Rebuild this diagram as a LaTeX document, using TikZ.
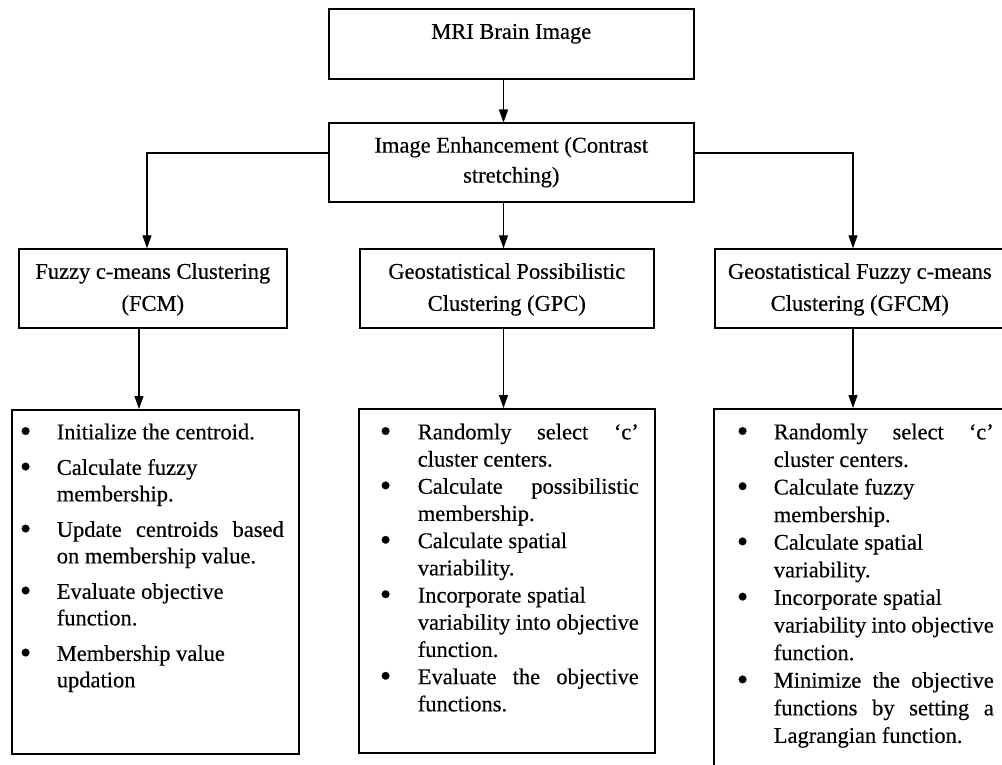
\documentclass[tikz,border=0pt]{standalone}
\usepackage{fontspec}
\setmainfont[FakeBold=0.4]{Liberation Serif}
\usetikzlibrary{arrows.meta}
\newlength{\hangamt}
\newcommand{\bul}{\raisebox{-2.5pt}{\scalebox{1.45}{\textbullet}}}
\newcommand{\itm}[1]{\hangindent=\hangamt\hangafter=1\noindent\makebox[\hangamt][l]{\strut\bul}#1\par}
\newcommand{\listsetup}[4]{\fontsize{22.5}{#4}\selectfont\lineskiplimit=0pt\lineskip=0pt\leftskip=#1\setlength{\hangamt}{#2}\rightskip=#3}
\newcommand{\cbox}[5]{\parbox[t][#2][t]{#1}{\centering\fontsize{22.5}{#5}\selectfont\lineskiplimit=0pt\lineskip=0pt\vspace*{#3}\strut #4}}
\tikzset{
  box/.style={draw, line width=1.6pt, inner sep=0pt, anchor=north west},
  arr/.style={line width=1.2pt, -{Triangle[width=9pt,length=13pt]}}
}
\begin{document}
\begin{tikzpicture}[x=1pt,y=-1pt]
\useasboundingbox (0,0) rectangle (1002,765);
% top boxes
\node[box] (mri) at (328,8) {\cbox{365pt}{70pt}{9pt}{MRI Brain Image}{30pt}};
\node[box] (enh) at (328,122.5) {\cbox{365pt}{78.5pt}{8.3pt}{Image Enhancement (Contrast\\stretching)}{30pt}};
% level 2
\node[box] (fcm) at (18,248.3) {\cbox{268pt}{79pt}{7.3pt}{Fuzzy c-means Clustering\\(FCM)}{32pt}};
\node[box] (gpc) at (359,248.3) {\cbox{294pt}{79pt}{7.3pt}{Geostatistical Possibilistic\\Clustering (GPC)}{32pt}};
\node[box] (gfcm) at (714,248.3) {\cbox{290pt}{79pt}{7.3pt}{Geostatistical Fuzzy c-means\\Clustering (GFCM)}{32pt}};
% level 3
\node[box] (fcmL) at (11,409) {\parbox[t][344pt][t]{287pt}{\listsetup{8.1pt}{36.9pt}{15pt}{26.5pt}\parskip=9pt\vspace*{2pt}
\itm{Initialize the centroid.}
\itm{Calculate fuzzy\\membership.}
\itm{Update\hfill centroids\hfill based\\on membership value.}
\itm{Evaluate objective\\function.}
\itm{Membership value\\updation}}};
\node[box] (gpcL) at (358,408) {\parbox[t][344pt][t]{296pt}{\listsetup{21.1pt}{37.9pt}{16pt}{27.2pt}\vspace*{11.5pt}
\itm{Randomly\hfill select\hfill `c'\\cluster centers.}
\itm{Calculate\hfill possibilistic\\membership.}
\itm{Calculate spatial\\variability.}
\itm{Incorporate spatial\\variability into objective\\function.}
\itm{Evaluate\hfill the\hfill objective\\functions.}}};
\node[box] (gfcmL) at (713,408) {\parbox[t][380pt][t]{291pt}{\listsetup{23.1pt}{36.9pt}{11pt}{27.6pt}\vspace*{11.2pt}
\itm{Randomly\hfill select\hfill `c'\\cluster centers.}
\itm{Calculate fuzzy\\membership.}
\itm{Calculate spatial\\variability.}
\itm{Incorporate spatial\\variability into objective\\function.}
\itm{Minimize\hfill the\hfill objective\\functions\hfill by\hfill setting\hfill a\\Lagrangian function.}}};
% connectors
\coordinate (mx) at (503.5,0);
\coordinate (lx) at (147,153);
\coordinate (rx) at (853,153);
\coordinate (lx2) at (139,0);
\draw[arr] (mri.south -| mx) -- (enh.north -| mx);
\draw[arr] (enh.south -| mx) -- (gpc.north -| mx);
\draw[arr] (enh.west |- lx) -| (fcm.north -| lx);
\draw[arr] (enh.east |- rx) -| (gfcm.north -| rx);
\draw[arr] (fcm.south -| lx2) -- (fcmL.north -| lx2);
\draw[arr] (gpc.south -| mx) -- (gpcL.north -| mx);
\draw[arr] (gfcm.south -| rx) -- (gfcmL.north -| rx);
\end{tikzpicture}
\end{document}
